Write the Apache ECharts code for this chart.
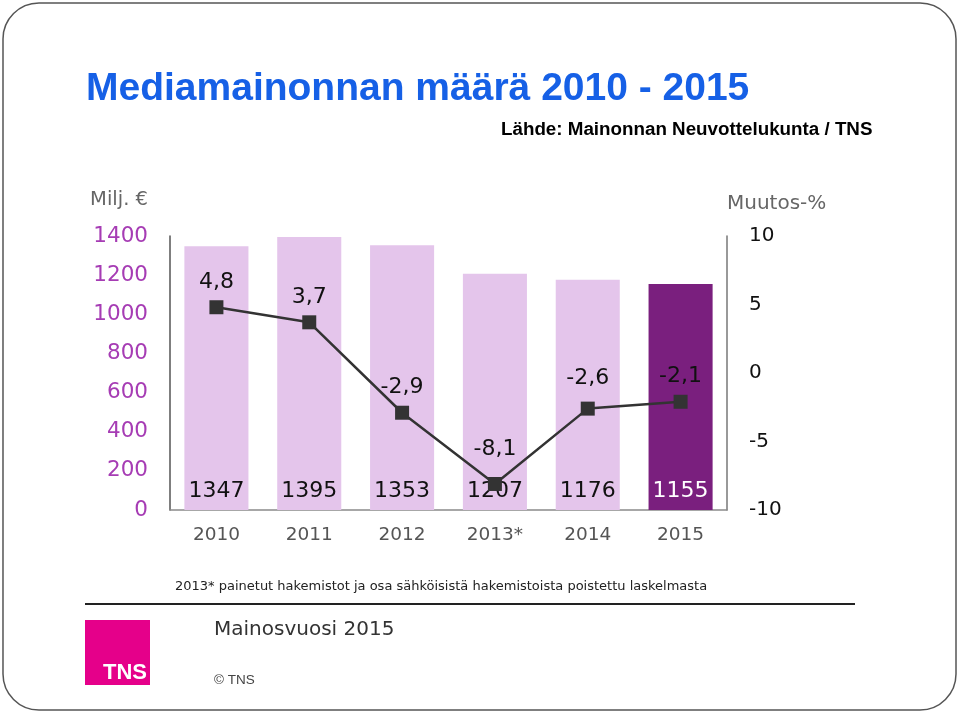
<!DOCTYPE html>
<html>
<head>
<meta charset="utf-8">
<script src="https://cdn.jsdelivr.net/npm/echarts@6/dist/echarts.min.js"></script>
<style>
html,body{margin:0;padding:0;background:#fff;}
#chart{width:960px;height:714px;}
</style>
</head>
<body>
<div id="chart"></div>
<script>
// ---- data ----
const categories = ['2010', '2011', '2012', '2013*', '2014', '2015'];
const volume = [1347, 1395, 1353, 1207, 1176, 1155];       // Milj. €
const changePct = [4.8, 3.7, -2.9, -8.1, -2.6, -2.1];      // Muutos-%
const leftTicks = [0, 1400, 200];   // min, max, interval
const rightTicks = [-10, 10, 5];

const titleText = 'Mediamainonnan määrä 2010 - 2015';
const sourceText = 'Lähde: Mainonnan Neuvottelukunta / TNS';
const footnoteText = '2013* painetut hakemistot ja osa sähköisistä hakemistoista poistettu laskelmasta';

const chart = echarts.init(document.getElementById('chart'), null, {renderer: 'canvas'});
const FONT = '"DejaVu Sans", Verdana, sans-serif';
const lastIdx = volume.length - 1;

const barData = volume.map((v, i) => i === lastIdx
  ? {value: v, itemStyle: {color: '#7a1f7e'}, label: {color: '#ffffff'}}
  : {value: v});

// label distance tweaks to mimic the reference's hand placement
const labelDist = {3: 17, 4: 12};
const lineData = changePct.map((v, i) => labelDist[i] !== undefined
  ? {value: v, label: {distance: labelDist[i]}}
  : {value: v});

chart.setOption({
  backgroundColor: '#ffffff',
  animation: false,
  title: [
    {text: titleText, left: 81, top: 65,
     textStyle: {fontFamily: '"Liberation Sans", Arial, sans-serif', fontWeight: 'bold', fontSize: 39, color: '#1660e6'}},
    {text: sourceText, left: 496, top: 115,
     textStyle: {fontFamily: '"Liberation Sans", Arial, sans-serif', fontWeight: 'bold', fontSize: 18.8, color: '#000'}}
  ],
  grid: {left: 170, right: 233, top: 236, bottom: 204, containLabel: false},
  xAxis: {
    type: 'category', data: categories,
    axisLine: {show: true, lineStyle: {color: '#8a8a8a', width: 1.5}},
    axisTick: {show: false},
    axisLabel: {fontFamily: FONT, fontSize: 18.5, color: '#555', margin: 16}
  },
  yAxis: [
    {type: 'value', min: leftTicks[0], max: leftTicks[1], interval: leftTicks[2],
     name: 'Milj. €', nameLocation: 'end', nameGap: 26,
     nameTextStyle: {fontFamily: FONT, fontSize: 19.5, color: '#666', align: 'right', padding: [0, 22, 0, 0]},
     axisLine: {show: true, lineStyle: {color: '#555', width: 1.5}},
     axisTick: {show: false}, splitLine: {show: false},
     axisLabel: {fontFamily: FONT, fontSize: 21.5, color: '#a63cb4', margin: 22, formatter: v => String(v)}},
    {type: 'value', min: rightTicks[0], max: rightTicks[1], interval: rightTicks[2],
     name: 'Muutos-%', nameLocation: 'end', nameGap: 22,
     nameTextStyle: {fontFamily: FONT, fontSize: 20, color: '#666', align: 'left', padding: [0, 0, 0, 0]},
     axisLine: {show: true, lineStyle: {color: '#777', width: 1.5}},
     axisTick: {show: false}, splitLine: {show: false},
     axisLabel: {fontFamily: FONT, fontSize: 20, color: '#111', margin: 22, formatter: v => String(v)}}
  ],
  series: [
    {type: 'bar', data: barData, yAxisIndex: 0, barCategoryGap: '31%',
     itemStyle: {color: '#e4c5eb'},
     label: {show: true, position: 'insideBottom', distance: 8, fontFamily: FONT, fontSize: 22, color: '#111'}},
    {type: 'line', data: lineData, yAxisIndex: 1,
     symbol: 'rect', symbolSize: 14,
     lineStyle: {color: '#333', width: 2.5},
     itemStyle: {color: '#333'},
     label: {show: true, position: 'top', distance: 7, fontFamily: FONT, fontSize: 22, color: '#111',
             formatter: p => String(p.value).replace('.', ',')}}
  ],
  graphic: [
    {type: 'rect', shape: {x: 3, y: 3, width: 953, height: 707, r: 36},
     style: {fill: 'none', stroke: '#555', lineWidth: 1.5}, z: -1},
    {type: 'text', left: 175, top: 580,
     style: {text: footnoteText, fontFamily: FONT, fontSize: 13, fill: '#222'}},
    {type: 'line', shape: {x1: 85, y1: 604, x2: 855, y2: 604},
     style: {stroke: '#222', lineWidth: 2}},
    {type: 'rect', shape: {x: 85, y: 620, width: 65, height: 65}, style: {fill: '#e5008a'}},
    {type: 'text', left: 103, top: 662,
     style: {text: 'TNS', fontFamily: '"Liberation Sans Narrow", "Liberation Sans", Arial, sans-serif', fontWeight: 'bold', fontSize: 22, fill: '#fff'}},
    {type: 'text', left: 214, top: 620,
     style: {text: 'Mainosvuosi 2015', fontFamily: FONT, fontSize: 20, fill: '#333'}},
    {type: 'text', left: 214, top: 673,
     style: {text: '© TNS', fontFamily: '"Liberation Sans", Arial, sans-serif', fontSize: 13.5, fill: '#444'}}
  ]
});
</script>
</body>
</html>
